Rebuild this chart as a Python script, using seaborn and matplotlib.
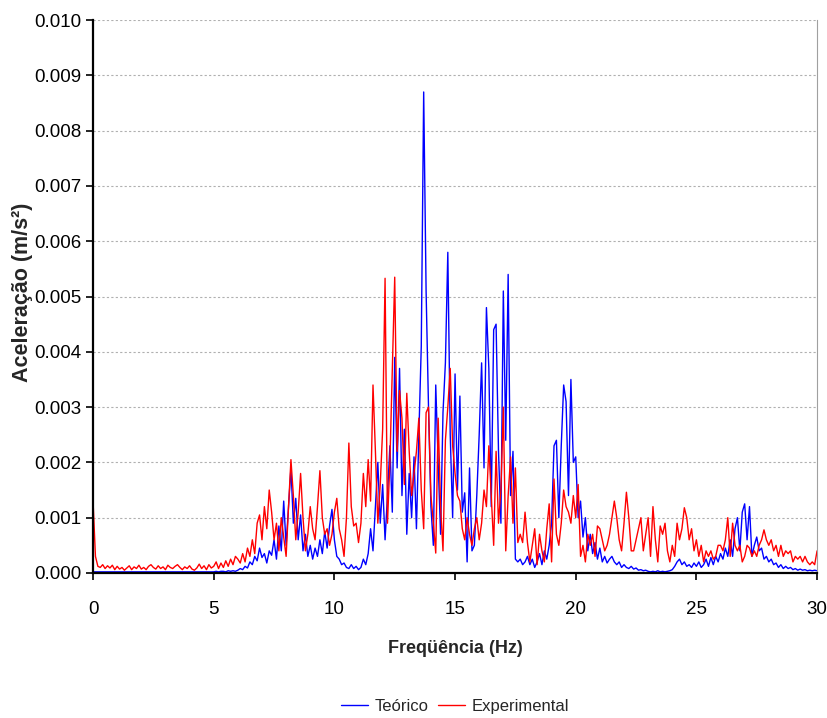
import numpy as np
import pandas as pd
import seaborn as sns
import matplotlib.pyplot as plt

# frequency axis (Hz), 0.1 Hz step
freq = np.round(np.arange(0, 30.01, 0.1), 1)

# accelerations, in units of 1e-4 m/s2
teorico = np.array([
    0.2, 0.2, 0.2, 0.2, 0.2, 0.2, 0.2, 0.2, 0.2, 0.2,
    0.2, 0.2, 0.2, 0.2, 0.2, 0.2, 0.2, 0.2, 0.2, 0.2,
    0.2, 0.2, 0.2, 0.2, 0.2, 0.2, 0.2, 0.2, 0.2, 0.2,
    0.2, 0.2, 0.2, 0.2, 0.2, 0.2, 0.2, 0.2, 0.2, 0.2,
    0.2, 0.2, 0.2, 0.2, 0.2, 0.2, 0.2, 0.2, 0.2, 0.2,
    0.2, 0.3, 0.2, 0.3, 0.3, 0.2, 0.4, 0.3, 0.4, 0.3,
    0.5, 0.8, 0.6, 1.2, 0.9, 2.0, 1.5, 3.0, 2.2, 4.5,
    2.8, 3.5, 1.8, 4.0, 3.2, 6.0, 2.5, 8.5, 4.0, 13.0,
    5.0, 12.0, 19.0, 9.0, 13.5, 6.0, 10.5, 4.0, 7.0, 3.0,
    5.0, 2.5, 4.5, 3.0, 6.0, 3.5, 7.5, 4.5, 8.5, 11.5,
    6.0, 3.0, 2.5, 1.5, 1.8, 1.0, 0.8, 1.5, 0.8, 1.2,
    0.6, 1.0, 2.5, 1.5, 3.5, 8.0, 4.0, 12.0, 20.0, 9.0,
    16.0, 6.0, 14.0, 23.0, 11.0, 39.0, 19.0, 37.0, 14.0, 26.0,
    7.0, 18.0, 10.0, 21.0, 8.0, 25.0, 41.0, 87.0, 51.0, 30.0,
    12.0, 5.0, 34.0, 20.0, 7.0, 29.0, 38.0, 58.0, 25.0, 10.0,
    36.0, 15.0, 32.0, 11.0, 14.5, 2.0, 19.0, 4.0, 5.0, 14.0,
    25.0, 38.0, 19.0, 48.0, 37.0, 12.0, 44.0, 45.0, 22.0, 9.0,
    51.0, 24.0, 54.0, 14.0, 22.0, 2.5, 2.0, 2.5, 1.5, 2.0,
    3.0, 1.5, 2.5, 1.0, 2.0, 3.5, 1.5, 4.0, 2.5, 5.0,
    9.0, 23.0, 24.0, 10.0, 23.0, 34.0, 31.0, 14.0, 35.0, 20.0,
    21.0, 10.0, 13.0, 6.5, 10.0, 4.0, 7.0, 3.5, 5.5, 2.5,
    4.5, 2.0, 3.0, 1.8, 2.5, 3.0, 2.0, 1.5, 2.0, 1.0,
    1.5, 1.0, 0.8, 1.2, 0.7, 0.9, 0.5, 0.6, 0.4, 0.5,
    0.3, 0.2, 0.3, 0.2, 0.4, 0.2, 0.3, 0.2, 0.3, 0.4,
    0.6, 1.2, 2.0, 2.5, 1.5, 2.0, 1.2, 1.5, 1.0, 1.8,
    1.2, 2.0, 1.0, 1.5, 2.5, 1.2, 2.8, 1.5, 3.0, 2.0,
    3.5, 2.5, 4.5, 3.0, 6.0, 3.0, 8.0, 10.0, 4.0, 11.0,
    12.5, 6.0, 12.0, 3.0, 5.0, 6.5, 4.0, 4.5, 2.5, 3.0,
    2.0, 2.5, 1.5, 1.8, 1.0, 1.5, 0.8, 1.2, 0.8, 1.0,
    0.6, 0.8, 0.5, 0.7, 0.5, 0.6, 0.4, 0.5, 0.4, 0.5,
    0.4,
])

experimental = np.array([
    13.0, 3.0, 1.2, 1.0, 1.5, 0.8, 1.3, 0.9, 1.4, 0.6,
    1.2, 0.7, 1.0, 0.5, 0.9, 1.3, 0.6, 1.1, 0.8, 1.4,
    0.7, 1.0, 0.6, 1.2, 1.5, 1.0, 0.7, 1.3, 0.8, 1.1,
    0.6, 1.4, 1.0, 0.8, 1.2, 1.5, 1.0, 0.6, 1.1, 0.8,
    1.3, 0.7, 0.5, 0.9, 1.6, 0.8, 1.3, 0.6, 1.5, 0.9,
    1.2, 2.0, 0.8, 1.8, 1.0, 2.2, 1.2, 2.5, 1.5, 3.0,
    2.5, 1.8, 3.5, 2.0, 4.5, 3.0, 6.0, 3.5, 9.0, 10.5,
    6.0, 12.0, 8.0, 15.0, 11.0, 6.0, 9.0, 4.0, 10.0, 6.5,
    3.0, 12.0, 20.5, 14.0, 6.0, 11.0, 18.0, 10.0, 4.0, 7.0,
    12.0, 8.0, 6.0, 12.0, 18.5, 10.0, 7.0, 8.0, 5.0, 7.0,
    11.0, 13.5, 8.0, 6.0, 3.0, 10.0, 23.5, 12.0, 8.5, 9.0,
    5.5, 9.0, 18.0, 12.0, 20.5, 13.0, 34.0, 22.0, 9.0, 16.0,
    26.0, 53.3, 9.0, 20.0, 37.0, 53.5, 22.0, 33.0, 28.0, 16.0,
    32.5, 22.0, 14.0, 18.0, 22.0, 28.0, 15.0, 8.0, 29.0, 30.0,
    14.0, 9.0, 3.6, 28.0, 12.0, 4.0, 24.0, 30.0, 37.0, 23.0,
    18.0, 14.0, 13.0, 8.0, 6.0, 10.0, 7.0, 5.0, 8.0, 10.0,
    6.0, 9.0, 15.0, 12.0, 23.0, 14.0, 5.0, 22.0, 9.0, 15.0,
    30.0, 4.0, 14.0, 21.0, 9.0, 19.0, 5.5, 7.0, 5.5, 11.0,
    5.5, 2.0, 5.0, 8.0, 1.5, 7.0, 4.0, 2.0, 8.0, 12.5,
    2.0, 17.0, 7.0, 5.0, 9.0, 15.0, 12.0, 11.0, 9.0, 14.0,
    10.0, 16.0, 3.0, 5.0, 2.0, 7.0, 5.0, 7.0, 3.0, 8.5,
    8.0, 6.0, 4.0, 5.0, 7.0, 10.0, 13.0, 10.0, 6.0, 4.0,
    9.0, 14.6, 10.0, 4.0, 4.0, 6.0, 8.0, 10.0, 4.0, 7.0,
    10.0, 3.0, 12.0, 6.0, 2.0, 8.5, 7.0, 9.0, 4.0, 2.0,
    5.0, 3.0, 9.0, 6.0, 8.0, 11.8, 10.0, 6.0, 8.0, 4.0,
    6.0, 3.0, 5.0, 2.0, 4.0, 3.0, 4.0, 2.5, 3.0, 5.0,
    5.0, 4.0, 6.0, 10.0, 3.0, 9.0, 5.0, 4.0, 5.0, 2.0,
    3.0, 5.0, 4.5, 3.0, 4.0, 3.0, 5.0, 6.0, 7.8, 6.0,
    5.0, 6.0, 4.0, 5.0, 3.0, 5.0, 3.0, 4.0, 3.5, 4.0,
    2.0, 3.0, 2.5, 3.0, 2.0, 3.0, 2.0, 1.5, 2.0, 1.5,
    4.0,
])

series_names = ['Teórico', 'Experimental']
series_colors = ['#0000ff', '#ff0000']

df = pd.DataFrame({
    'freq': np.concatenate([freq, freq]),
    'acc': np.concatenate([teorico, experimental]) / 10000.0,
    'serie': [series_names[0]] * len(freq) + [series_names[1]] * len(freq),
})

sns.set_style('white')
plt.rcParams['font.family'] = ['Liberation Sans', 'DejaVu Sans']

fig = plt.figure(figsize=(8.27, 7.18), dpi=100)
ax = fig.add_axes([0.1125, 0.202, 0.8755, 0.770])

sns.lineplot(data=df, x='freq', y='acc', hue='serie', palette=series_colors,
             hue_order=series_names, linewidth=1.0, ax=ax, legend=False)

ax.set_xlim(0, 30)
ax.set_ylim(0, 0.010)
ax.set_xticks(np.arange(0, 31, 5))
ax.set_yticks(np.arange(0, 0.0101, 0.001))
ax.set_yticklabels([f'{v:.3f}' for v in np.arange(0, 0.0101, 0.001)])
ax.tick_params(axis='both', direction='out', length=5, width=1.2, labelsize=13.5,
               color='black', labelcolor='black', left=True, bottom=True)
ax.tick_params(axis='x', pad=15)

ax.yaxis.grid(True, linestyle=(0, (2, 2)), color='#b0b0b0', linewidth=0.8)
ax.set_axisbelow(True)

for side in ['left', 'bottom']:
    ax.spines[side].set_color('black')
    ax.spines[side].set_linewidth(1.6)
ax.spines['top'].set_visible(False)
ax.spines['right'].set_color('#a0a0a0')
ax.spines['right'].set_linewidth(0.8)

ax.set_xlabel('Freqüência (Hz)', fontsize=13, fontweight='bold', labelpad=16)
ax.set_ylabel('Aceleração (m/s²)', fontsize=15.5, fontweight='bold', labelpad=3)
ax.yaxis.set_label_coords(-0.083, 0.508)

handles = [plt.Line2D([], [], color=c, linewidth=1.0) for c in series_colors]
ax.legend(handles, series_names, loc='center', bbox_to_anchor=(0.5, -0.242),
          ncol=2, frameon=False, fontsize=12, handlelength=1.6, columnspacing=0.55,
          handletextpad=0.4)

fig.savefig('out.png', dpi=100)
